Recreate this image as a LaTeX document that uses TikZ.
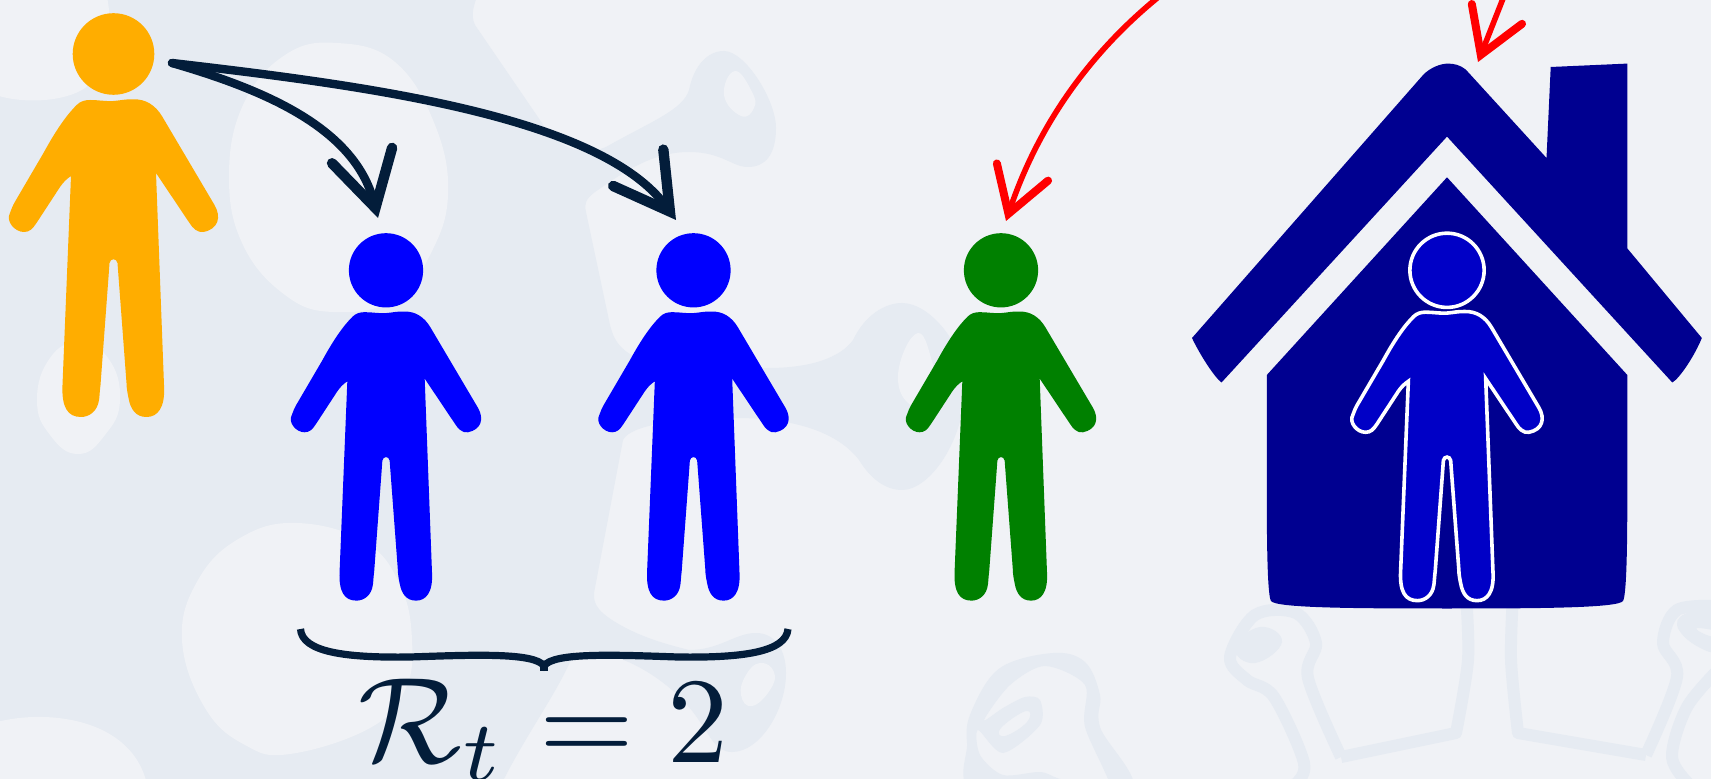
\documentclass[tikz,border=0pt]{standalone}
\usepackage{amsmath,amssymb}
\usetikzlibrary{arrows.meta,calc}
\definecolor{PaperGrey}{HTML}{F0F2F6}
\definecolor{BlobGrey}{HTML}{E6EBF2}
\definecolor{InkNavy}{HTML}{031D3A}
\definecolor{InfectorOrange}{HTML}{FFAD00}
\definecolor{HouseBlue}{HTML}{000090}
\definecolor{IndoorBlue}{HTML}{0000C6}
\definecolor{SafeGreen}{HTML}{008000}
\tikzset{
  person/.pic={
    \path[pic actions] (0,41) circle[radius=40.8];
    \path[pic actions] (-36.8,92) .. controls (-33,88) and (-28,87) .. (-23.5,87)
      .. controls (-15,87) and (-8,88.5) .. (0,88)
      .. controls (7,87.5) and (12,86) .. (19.8,86.3)
      .. controls (32,86) and (42,92) .. (49,104)
      -- (101,192) .. controls (108,204) and (105,216) .. (90,219)
      .. controls (84,220) and (79,215) .. (76,210)
      -- (42.5,160) -- (50.5,372)
      .. controls (52,395) and (44,404) .. (33,404)
      .. controls (22,404) and (17,396) .. (15,385)
      .. controls (14,380) and (13,375) .. (13,370)
      -- (4,250) .. controls (3,245) and (-3,245) .. (-4,250)
      -- (-5,264) -- (-13,372)
      .. controls (-14,380) and (-14,385) .. (-14.5,387)
      .. controls (-16,398) and (-24,404) .. (-32.5,404)
      .. controls (-46,404) and (-52,394) .. (-51,372)
      -- (-42.5,163) .. controls (-47,166) and (-50,169) .. (-53.5,174)
      -- (-77,210) .. controls (-81,216) and (-84,219) .. (-89.5,219)
      .. controls (-99,219) and (-108,208) .. (-103.5,200)
      .. controls (-102,196) and (-101,193) .. (-98.5,188.7)
      -- (-70,140) .. controls (-58,118) and (-47,102) .. (-36.8,92) -- cycle;
  }
}

\begin{document}
\begin{tikzpicture}[
    x=0.5pt,y=-0.5pt,
    blob/.style={fill=BlobGrey,even odd rule},
    bloblight/.style={fill=PaperGrey},
    doodle/.style={draw=BlobGrey,line width=6pt,line join=round},
    inkarrow/.style={draw=InkNavy,line width=4.2pt,line cap=round,
      -{Straight Barb[length=27pt,width=31pt,line width=5.2pt,line cap=round,line join=miter]}},
    redarrow/.style={draw=red,line width=2.8pt,line cap=round,
      -{Straight Barb[length=22pt,width=27pt,line width=4pt,line cap=round,line join=miter]}}
  ]
  \path[use as bounding box,clip] (0,0) rectangle (1711,779);
  \fill[PaperGrey] (0,0) rectangle (1711,779);

  % Grey backdrop on the left, with its three bulges
  \fill[blob] (-10,-10) -- (479,-10) .. controls (474,6) and (470,14) .. (475,25)
    -- (542,123) .. controls (555,145) and (580,158) .. (606,147)
    .. controls (650,122) and (683,110) .. (689,90)
    .. controls (694,65) and (708,51) .. (724,51)
    .. controls (745,51) and (776,100) .. (776,128)
    .. controls (776,155) and (765,167) .. (748,167)
    .. controls (732,167) and (722,152) .. (689,152)
    .. controls (650,152) and (620,175) .. (595,192)
    .. controls (586,199) and (584,203) .. (586,212)
    -- (610,325) .. controls (615,345) and (625,360) .. (673,367)
    .. controls (700,370) and (740,368) .. (768,368)
    .. controls (810,368) and (840,358) .. (853,340)
    .. controls (865,315) and (885,303) .. (902,303)
    .. controls (930,303) and (965,345) .. (965,385)
    .. controls (965,440) and (930,490) .. (902,490)
    .. controls (885,490) and (870,478) .. (859,460)
    .. controls (840,435) and (800,418) .. (736,418)
    .. controls (680,418) and (630,425) .. (623,440)
    -- (594,593) .. controls (593,605) and (600,612) .. (612,620)
    .. controls (640,638) and (670,645) .. (689,650)
    .. controls (720,650) and (735,633) .. (756,633)
    .. controls (775,633) and (786,650) .. (786,673)
    .. controls (786,710) and (760,752) .. (732,752)
    .. controls (715,752) and (710,735) .. (700,722)
    .. controls (680,690) and (630,650) .. (575,650)
    .. controls (560,690) and (525,735) .. (499,789) -- (-10,789) -- cycle;
  \fill[bloblight] plot[smooth cycle,tension=.8] coordinates {(724,95) (735,71) (752,92) (754,108) (741,116)};
  \fill[bloblight] plot[smooth cycle,tension=.8] coordinates {(898,375) (918,333) (935,370) (945,400) (914,407)};
  \fill[bloblight] plot[smooth cycle,tension=.8] coordinates {(741,695) (746,675) (760,663) (774,672) (770,690) (752,706)};

  % Pale patches on the backdrop
  \fill[bloblight] (-10,-10) -- (105,-10) .. controls (115,20) and (108,70) .. (85,88)
    .. controls (65,102) and (20,105) .. (-10,93) -- cycle;
  \fill[bloblight] plot[smooth cycle,tension=.7] coordinates {(229,177) (243,105) (285,55) (337,43) (395,62) (435,125) (448,195) (430,255) (395,300) (333,312) (285,295) (243,245)};
  \fill[bloblight] plot[smooth cycle,tension=.8] coordinates {(37,400) (50,358) (78,343) (108,358) (120,400) (105,435) (78,454) (50,435)};
  \fill[bloblight] plot[smooth cycle,tension=.7] coordinates {(182,640) (198,580) (240,538) (297,523) (365,542) (400,585) (412,640) (405,690) (370,728) (290,754) (245,745) (205,708)};
  \fill[bloblight] (-10,724) .. controls (40,708) and (135,715) .. (148,789) -- (-10,789) -- cycle;

  % Faint line drawings under the house
  \fill[blob] plot[smooth cycle,tension=.6] coordinates {(979,795) (967,743) (972,710) (1000,668) (1053,653) (1085,662) (1100,695) (1100,727) (1129,795)}
    plot[smooth cycle,tension=.5] coordinates {(984,720) (1010,685) (1045,666) (1085,685) (1085,727) (1112,795) (1060,779) (1040,772) (1003,775) (980,755) (978,730) (1003,753) (1040,725) (1040,700) (1025,697) (1003,708)}
    plot[smooth cycle,tension=.8] coordinates {(1026,711) (1027,722) (1005,736) (1001,728)};
  \draw[doodle] plot[smooth,tension=.5] coordinates {(1466,595) (1468,660) (1456,733)}
    -- (1341,757) plot[smooth,tension=.55] coordinates {(1341,757) (1308,678) (1316,643) (1296,613) (1255,615) (1230,657) (1247,680) (1274,697) (1304,763) (1294,785)};
  \fill[blob] plot[smooth cycle,tension=.8] coordinates {(1260,627) (1282,642) (1255,663) (1235,648)};
  \draw[doodle] plot[smooth,tension=.5] coordinates {(1513,595) (1511,660) (1518,733)}
    -- (1646,755) plot[smooth,tension=.55] coordinates {(1646,755) (1677,677) (1663,643) (1677,610) (1720,606)};
  \draw[doodle] plot[smooth,tension=.55] coordinates {(1720,668) (1687,707) (1672,757) (1690,785)};
  \fill[blob] plot[smooth cycle,tension=.7] coordinates {(1677,625) (1695,645) (1720,650) (1720,612) (1690,612)}
    plot[smooth cycle,tension=.7] coordinates {(1697,628) (1720,632) (1720,638) (1704,634)};

  % House
  \fill[HouseBlue] (1192,338) .. controls (1200,355) and (1215,378) .. (1221.5,382.5)
    -- (1447,136.6) -- (1672.3,382.5)
    .. controls (1680,378) and (1695,355) .. (1701.8,338)
    -- (1627.3,248.4)
    -- (1627.3,63.6) -- (1550.7,67) -- (1546.5,158) -- (1465.7,69.5)
    .. controls (1460,65) and (1454,63.6) .. (1448,63.6)
    .. controls (1440,63.6) and (1430,68) .. (1423.5,74.5)
    -- cycle;
  \fill[HouseBlue] (1447,177.3) -- (1627.3,375)
    -- (1627.3,497) .. controls (1627.3,560) and (1626,596) .. (1623,601)
    .. controls (1618,608) and (1540,608.5) .. (1447,608.5)
    .. controls (1354,608.5) and (1276,608) .. (1271,601)
    .. controls (1268,596) and (1266.8,560) .. (1266.8,497)
    -- (1266.8,375) -- cycle;

  % People
  \path (113.5,13) pic[fill=InfectorOrange] {person};
  \path (386,233) pic[fill=blue,scale=.91] {person};
  \path (693.5,233) pic[fill=blue,scale=.91] {person};
  \path (1001,233) pic[fill=SafeGreen,scale=.91] {person};
  \path (1447,233) pic[fill=IndoorBlue,draw=white,line width=1.8pt,scale=.91] {person};

  % Arrows
  \coordinate (source) at (172,63);
  \coordinate (tipone) at (378,218);
  \coordinate (tiptwo) at (676,220);
  \coordinate (tipgreen) at (1006,221);
  \coordinate (tiphouse) at (1478,62);
  \coordinate (farone) at (1210,-40);
  \coordinate (fartwo) at (1530,-70);
  \draw[inkarrow] (source) .. controls (265,90) and (355,128) .. (tipone);
  \draw[inkarrow] (source) .. controls (360,85) and (600,115) .. (tiptwo);
  \draw[redarrow] (farone) .. controls (1115,20) and (1045,105) .. (tipgreen);
  \draw[redarrow] (fartwo) -- (tiphouse);

  % Brace and count
  \draw[InkNavy,line width=3.6pt]
    (300.5,629) .. controls (302,652) and (345,658) .. (410,657)
    .. controls (470,655) and (535,652) .. (544,666)
    .. controls (553,652) and (618,655) .. (678,657)
    .. controls (743,658) and (786,652) .. (788,629);
  \draw[InkNavy,line width=3.6pt] (544,664) -- (544,671);
  \node[InkNavy,scale=6.1,anchor=base] (count) at (544,762) {$\mathcal{R}_t=2$};
\end{tikzpicture}
\end{document}
